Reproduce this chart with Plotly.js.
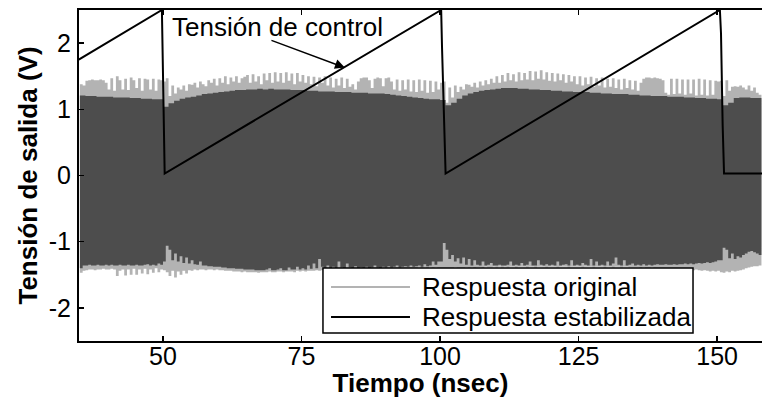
<!DOCTYPE html>
<html>
<head>
<meta charset="utf-8">
<script src="https://cdn.plot.ly/plotly-3.0.1.min.js"></script>
<style>html,body{margin:0;padding:0;background:#fff;}#chart{width:762px;height:398px;}</style>
</head>
<body>
<div id="chart"></div>
<script>
// Envelope of the original response (light gray), sampled every 0.5 ns from t = 35 ns
const origStart = 35, origStep = 0.5;
const origHi = [
 1.38,1.36,1.43,1.44,1.45,1.44,1.44,1.45,1.44,1.40,
 1.30,1.47,1.28,1.50,1.44,1.30,1.46,1.29,1.48,1.44,
 1.32,1.47,1.28,1.46,1.45,1.30,1.46,1.28,1.45,1.44,
 1.42,1.47,1.20,1.36,1.24,1.33,1.30,1.36,1.28,1.38,
 1.37,1.40,1.33,1.42,1.38,1.35,1.44,1.40,1.46,1.36,
 1.47,1.40,1.50,1.38,1.48,1.42,1.50,1.40,1.47,1.49,
 1.52,1.40,1.53,1.42,1.50,1.38,1.54,1.44,1.55,1.40,
 1.56,1.42,1.55,1.40,1.56,1.43,1.54,1.38,1.55,1.42,
 1.52,1.40,1.50,1.38,1.49,1.35,1.48,1.40,1.50,1.36,
 1.48,1.33,1.46,1.36,1.48,1.32,1.46,1.34,1.38,1.30,
 1.42,1.47,1.48,1.48,1.44,1.32,1.46,1.48,1.47,1.35,
 1.47,1.48,1.42,1.30,1.45,1.28,1.44,1.30,1.45,1.27,
 1.44,1.26,1.45,1.28,1.44,1.25,1.43,1.26,1.42,1.30,
 1.40,1.42,1.10,1.33,1.18,1.36,1.26,1.34,1.30,1.38,
 1.37,1.34,1.40,1.33,1.42,1.36,1.44,1.38,1.46,1.40,
 1.50,1.40,1.52,1.42,1.55,1.44,1.53,1.42,1.56,1.44,
 1.55,1.45,1.58,1.44,1.57,1.46,1.59,1.45,1.56,1.43,
 1.55,1.42,1.54,1.44,1.53,1.40,1.52,1.42,1.50,1.38,
 1.50,1.36,1.48,1.38,1.49,1.34,1.47,1.36,1.48,1.33,
 1.46,1.34,1.47,1.32,1.45,1.30,1.46,1.32,1.44,1.30,
 1.43,1.28,1.40,1.46,1.48,1.48,1.47,1.48,1.47,1.46,
 1.44,1.25,1.22,1.46,1.23,1.46,1.24,1.45,1.22,1.45,
 1.24,1.45,1.21,1.46,1.22,1.45,1.21,1.44,1.22,1.43,
 1.42,1.43,1.20,1.44,1.28,1.34,1.35,1.34,1.36,1.33,
 1.30,1.36,1.28,1.33,1.25,1.22,1.20
];
const origLo = [
 -1.47,-1.44,-1.43,-1.42,-1.42,-1.43,-1.42,-1.42,-1.41,-1.42,
 -1.42,-1.41,-1.42,-1.52,-1.44,-1.42,-1.51,-1.42,-1.50,-1.41,
 -1.50,-1.42,-1.48,-1.41,-1.49,-1.42,-1.47,-1.40,-1.46,-1.42,
 -1.43,-1.46,-1.52,-1.44,-1.54,-1.45,-1.50,-1.44,-1.48,-1.43,
 -1.44,-1.42,-1.43,-1.42,-1.42,-1.43,-1.42,-1.42,-1.43,-1.42,
 -1.43,-1.43,-1.44,-1.44,-1.44,-1.45,-1.45,-1.45,-1.46,-1.45,
 -1.46,-1.46,-1.46,-1.46,-1.47,-1.46,-1.46,-1.46,-1.45,-1.46,
 -1.46,-1.45,-1.45,-1.46,-1.45,-1.45,-1.45,-1.46,-1.44,-1.45,
 -1.44,-1.45,-1.44,-1.44,-1.44,-1.43,-1.44,-1.43,-1.44,-1.43,
 -1.43,-1.43,-1.42,-1.43,-1.42,-1.43,-1.42,-1.42,-1.42,-1.42,
 -1.42,-1.41,-1.42,-1.42,-1.41,-1.42,-1.41,-1.42,-1.41,-1.41,
 -1.41,-1.40,-1.41,-1.41,-1.40,-1.41,-1.40,-1.40,-1.40,-1.41,
 -1.40,-1.40,-1.39,-1.40,-1.39,-1.40,-1.39,-1.40,-1.39,-1.40,
 -1.40,-1.42,-1.45,-1.40,-1.43,-1.39,-1.42,-1.40,-1.41,-1.39,
 -1.40,-1.39,-1.40,-1.39,-1.39,-1.40,-1.38,-1.39,-1.39,-1.38,
 -1.39,-1.38,-1.39,-1.38,-1.39,-1.38,-1.38,-1.39,-1.38,-1.38,
 -1.38,-1.39,-1.38,-1.38,-1.39,-1.38,-1.38,-1.38,-1.39,-1.38,
 -1.38,-1.38,-1.39,-1.38,-1.38,-1.38,-1.39,-1.38,-1.38,-1.38,
 -1.38,-1.39,-1.38,-1.38,-1.38,-1.39,-1.38,-1.38,-1.38,-1.39,
 -1.38,-1.38,-1.39,-1.38,-1.38,-1.39,-1.38,-1.38,-1.39,-1.39,
 -1.39,-1.39,-1.40,-1.39,-1.40,-1.40,-1.39,-1.40,-1.40,-1.41,
 -1.40,-1.41,-1.40,-1.41,-1.41,-1.40,-1.41,-1.42,-1.41,-1.42,
 -1.42,-1.43,-1.42,-1.43,-1.44,-1.43,-1.44,-1.45,-1.44,-1.45,
 -1.44,-1.46,-1.47,-1.45,-1.46,-1.44,-1.45,-1.44,-1.43,-1.42,
 -1.40,-1.39,-1.38,-1.37,-1.37,-1.36,-1.36
];
// Envelope of the stabilized response (dark gray)
const stabHiStart = 35, stabHiStep = 1;
const stabHi = [
 1.21,1.20,1.20,1.19,1.19,1.19,1.18,1.18,1.18,1.17,
 1.17,1.16,1.16,1.15,1.15,1.04,1.09,1.13,1.16,1.18,
 1.19,1.21,1.23,1.24,1.25,1.26,1.27,1.28,1.29,1.29,
 1.30,1.30,1.31,1.30,1.31,1.30,1.30,1.30,1.29,1.29,
 1.29,1.28,1.28,1.27,1.27,1.27,1.26,1.26,1.26,1.25,
 1.25,1.25,1.24,1.24,1.24,1.23,1.22,1.21,1.20,1.19,
 1.18,1.17,1.16,1.15,1.15,1.14,1.06,1.10,1.16,1.21,
 1.24,1.26,1.28,1.29,1.30,1.31,1.32,1.32,1.32,1.31,
 1.31,1.30,1.30,1.29,1.29,1.28,1.28,1.27,1.27,1.26,
 1.26,1.26,1.25,1.25,1.24,1.24,1.23,1.23,1.23,1.22,
 1.22,1.21,1.21,1.20,1.20,1.20,1.19,1.19,1.19,1.18,
 1.18,1.17,1.17,1.16,1.16,1.15,1.06,1.10,1.17,1.18,
 1.18,1.17,1.17,1.17
];
const stabLoStart = 35, stabLoStep = 0.5;
const stabLo = [
 -1.40,-1.36,-1.36,-1.35,-1.36,-1.36,-1.35,-1.36,-1.36,-1.35,
 -1.36,-1.35,-1.36,-1.36,-1.35,-1.36,-1.36,-1.35,-1.36,-1.36,
 -1.35,-1.36,-1.36,-1.35,-1.34,-1.36,-1.35,-1.36,-1.33,-1.35,
 -1.30,-1.06,-1.12,-1.28,-1.18,-1.30,-1.22,-1.32,-1.24,-1.33,
 -1.28,-1.34,-1.35,-1.30,-1.36,-1.36,-1.37,-1.37,-1.38,-1.38,
 -1.38,-1.39,-1.39,-1.40,-1.40,-1.40,-1.41,-1.41,-1.41,-1.42,
 -1.42,-1.42,-1.42,-1.43,-1.43,-1.43,-1.43,-1.42,-1.40,-1.43,
 -1.43,-1.42,-1.40,-1.43,-1.43,-1.39,-1.42,-1.42,-1.38,-1.42,
 -1.40,-1.42,-1.36,-1.41,-1.33,-1.40,-1.26,-1.38,-1.40,-1.36,
 -1.40,-1.38,-1.40,-1.30,-1.39,-1.40,-1.33,-1.39,-1.40,-1.37,
 -1.40,-1.39,-1.40,-1.38,-1.40,-1.39,-1.36,-1.39,-1.40,-1.38,
 -1.39,-1.37,-1.39,-1.38,-1.36,-1.39,-1.38,-1.37,-1.38,-1.36,
 -1.38,-1.37,-1.36,-1.38,-1.34,-1.37,-1.36,-1.30,-1.35,-1.30,
 -1.30,-1.02,-1.12,-1.26,-1.20,-1.30,-1.25,-1.33,-1.24,-1.35,
 -1.26,-1.36,-1.28,-1.35,-1.36,-1.30,-1.36,-1.35,-1.32,-1.36,
 -1.36,-1.35,-1.36,-1.36,-1.35,-1.30,-1.36,-1.35,-1.36,-1.32,
 -1.36,-1.35,-1.30,-1.36,-1.36,-1.28,-1.35,-1.36,-1.34,-1.36,
 -1.35,-1.36,-1.30,-1.36,-1.35,-1.34,-1.36,-1.28,-1.36,-1.35,
 -1.36,-1.32,-1.35,-1.36,-1.26,-1.36,-1.30,-1.36,-1.35,-1.36,
 -1.30,-1.36,-1.33,-1.24,-1.35,-1.36,-1.28,-1.36,-1.35,-1.33,
 -1.36,-1.35,-1.36,-1.34,-1.36,-1.35,-1.36,-1.35,-1.34,-1.35,
 -1.35,-1.34,-1.35,-1.35,-1.34,-1.35,-1.34,-1.34,-1.33,-1.34,
 -1.33,-1.34,-1.33,-1.32,-1.33,-1.32,-1.31,-1.32,-1.31,-1.30,
 -1.28,-1.28,-1.09,-1.12,-1.25,-1.18,-1.26,-1.22,-1.24,-1.20,
 -1.18,-1.15,-1.14,-1.16,-1.18,-1.20,-1.20
];
// Control voltage (sawtooth)
const ctrlT = [34.8, 49.8, 50.3, 100.2, 100.35, 101.0, 150.5, 150.7, 151.0, 151.25, 158.2];
const ctrlV = [1.75, 2.5, 0.03, 2.5, 1.95, 0.03, 2.5, 2.15, 0.76, 0.03, 0.03];

const xTicks = [50, 75, 100, 125, 150];
const yTicks = [-2, -1, 0, 1, 2];
const yTickText = ['-2', '-1', '0', '1', '2'];
const legendNames = ['Respuesta original', 'Respuesta estabilizada'];
const controlLabel = 'Tensión de control';
const xTitle = 'Tiempo (nsec)';
const yTitle = 'Tensión de salida (V)';

const LIGHT = 'rgb(179,179,179)';
const DARK = 'rgb(77,77,77)';
const FONT = 'Liberation Sans, Arial, sans-serif';

const traces = [
  {x0: origStart, dx: origStep, y: origLo, type: 'scatter', mode: 'lines',
   line: {width: 0, shape: 'hv', color: LIGHT}, showlegend: false, hoverinfo: 'skip'},
  {x0: origStart, dx: origStep, y: origHi, type: 'scatter', mode: 'lines', fill: 'tonexty',
   fillcolor: LIGHT, line: {width: 0, shape: 'hv', color: LIGHT}, showlegend: false, hoverinfo: 'skip'},
  {x0: stabLoStart, dx: stabLoStep, y: stabLo, type: 'scatter', mode: 'lines',
   line: {width: 0, shape: 'hv', color: DARK}, showlegend: false, hoverinfo: 'skip'},
  {x0: stabHiStart, dx: stabHiStep, y: stabHi, type: 'scatter', mode: 'lines', fill: 'tonexty',
   fillcolor: DARK, line: {width: 0, shape: 'hv', color: DARK}, showlegend: false, hoverinfo: 'skip'},
  {x: ctrlT, y: ctrlV, type: 'scatter', mode: 'lines', line: {color: 'black', width: 2},
   showlegend: false, hoverinfo: 'skip'}
];

// Legend box (drawn as shapes + text, positioned in paper units)
const LEG = {x0: 0.3572, x1: 0.899, y0: 0.0242, y1: 0.2205,
             lx0: 0.369, lx1: 0.4846, tx: 0.4993, rows: [0.1631, 0.0725]};
const legendColors = [LIGHT, 'black'];

const shapes = [
  {type: 'rect', xref: 'paper', yref: 'paper', x0: LEG.x0, x1: LEG.x1, y0: LEG.y0, y1: LEG.y1,
   fillcolor: 'white', line: {color: 'black', width: 1.5}, layer: 'above'}
];
const annotations = [
  {x: 70.6, y: 2.24, xref: 'x', yref: 'y', text: controlLabel, showarrow: false,
   font: {family: FONT, size: 26, color: 'black'}},
  {x: 82.8, y: 1.63, xref: 'x', yref: 'y', ax: 69.3, ay: 2.05, axref: 'x', ayref: 'y',
   text: '', showarrow: true, arrowhead: 2, arrowsize: 1.3, arrowwidth: 1.5, arrowcolor: 'black', standoff: 0}
];
legendNames.forEach(function (name, i) {
  shapes.push({type: 'line', xref: 'paper', yref: 'paper', x0: LEG.lx0, x1: LEG.lx1,
    y0: LEG.rows[i], y1: LEG.rows[i], line: {color: legendColors[i], width: 2}, layer: 'above'});
  annotations.push({xref: 'paper', yref: 'paper', x: LEG.tx, y: LEG.rows[i], xanchor: 'left',
    yanchor: 'middle', text: name, showarrow: false, font: {family: FONT, size: 26, color: 'black'}});
});

const layout = {
  width: 762, height: 398,
  margin: {l: 79, r: 0, t: 10, b: 57, pad: 0},
  paper_bgcolor: 'white', plot_bgcolor: 'white',
  font: {family: FONT, size: 26, color: 'black'},
  showlegend: false,
  xaxis: {
    range: [34.84, 158.1], tickvals: xTicks, ticks: 'inside', ticklen: 5, tickwidth: 1.5,
    tickcolor: 'black', showline: true, linecolor: 'black', linewidth: 2, mirror: 'ticks',
    showgrid: false, zeroline: false, ticklabelstandoff: -8,
    tickfont: {family: FONT, size: 25, color: 'black'},
    title: {text: xTitle, font: {family: FONT, size: 26, color: 'black', weight: 'bold'}, standoff: 12}
  },
  yaxis: {
    range: [-2.5, 2.5], tickvals: yTicks, ticktext: yTickText, ticks: 'inside', ticklen: 5,
    tickwidth: 1.5, tickcolor: 'black', showline: true, linecolor: 'black', linewidth: 2,
    mirror: false, showgrid: false, zeroline: false, ticklabelstandoff: 1,
    tickfont: {family: FONT, size: 25, color: 'black'},
    title: {text: yTitle, font: {family: FONT, size: 26, color: 'black', weight: 'bold'}, standoff: 4}
  },
  shapes: shapes,
  annotations: annotations
};

Plotly.newPlot('chart', traces, layout, {displayModeBar: false, staticPlot: true});
</script>
</body>
</html>
